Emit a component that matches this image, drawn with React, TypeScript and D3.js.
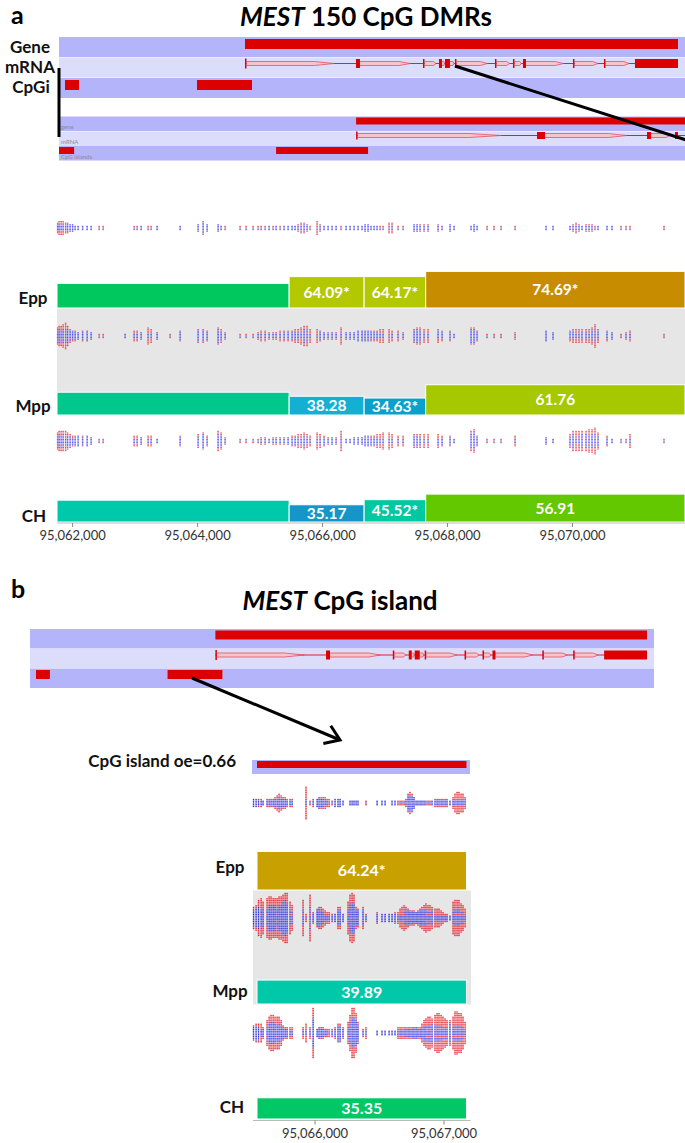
import React from "react";
import * as d3 from "d3";

const FONT = "Lato, 'Open Sans', sans-serif";

// ---------- browser overview (panel a top rows, panel b rows) ----------
const overviewDomain = [95055000, 95085000];
const geneOverview = [95063913, 95084663];
const exonsOverview = [
  [95063913, 95063985], [95069232, 95069424], [95072443, 95072515], [95073210, 95073353],
  [95073497, 95073737], [95073976, 95074048], [95075893, 95075965], [95076756, 95076828],
  [95077235, 95077379], [95079631, 95079703], [95081116, 95081188], [95082602, 95084663],
];
const cpgiOverview = [[95055288, 95055958], [95061613, 95064249]];

// ---------- zoomed browser view in panel a (DMR coordinates) ----------
const geneZoom = [95066536, 95071800];
const exonsZoom = [[95066536, 95066560], [95069432, 95069560], [95071192, 95071256], [95071640, 95071688]];
const cpgiZoom = [[95061760, 95062024], [95065256, 95066728]];

// ---------- panel a DMRs ----------
const domainA = [95061750, 95071800];
const dmrBoundsA = [95061750, 95065465, 95066665, 95067650, 95071800];
const eppA = [50.2, 64.09, 64.17, 74.69];
const eppLabA = ["", "64.09*", "64.17*", "74.69*"];
const mppA = [46.5, 38.28, 34.63, 61.76];
const mppLabA = ["", "38.28", "34.63*", "61.76"];
const chA = [44.5, 35.17, 45.52, 56.91];
const chLabA = ["", "35.17", "45.52*", "56.91"];
const eppColA = ["#00c85f", "#b4c800", "#b4c800", "#c88c00"];
const mppColA = ["#00c88c", "#14b0d4", "#0aa0cc", "#a5c800"];
const chColA = ["#00c8aa", "#1496c8", "#00c8a0", "#64c800"];
const ticksA = [95062000, 95064000, 95066000, 95068000, 95070000];

// CpG sites (bp) and dot-column half heights per track, fraction methylated
const sitesA = [95061760, 95061784, 95061816, 95061848, 95061888, 95061920, 95061960, 95062000, 95062040, 95062088, 95062160, 95062232, 95062296, 95062424, 95062488, 95062840, 95062984, 95063032, 95063096, 95063208, 95063256, 95063352, 95063560, 95063720, 95064008, 95064088, 95064152, 95064328, 95064376, 95064440, 95064680, 95064776, 95064888, 95064968, 95065016, 95065080, 95065144, 95065208, 95065256, 95065320, 95065384, 95065448, 95065512, 95065560, 95065608, 95065656, 95065704, 95065752, 95065800, 95065912, 95065960, 95066024, 95066088, 95066152, 95066216, 95066296, 95066376, 95066440, 95066504, 95066568, 95066632, 95066680, 95066728, 95066776, 95066824, 95066872, 95066920, 95066968, 95067064, 95067112, 95067208, 95067288, 95067464, 95067512, 95067560, 95067624, 95067688, 95067848, 95067912, 95068040, 95068104, 95068376, 95068424, 95068472, 95068632, 95068744, 95068856, 95069080, 95069576, 95069688, 95069960, 95070008, 95070056, 95070104, 95070152, 95070216, 95070264, 95070312, 95070360, 95070408, 95070552, 95070632, 95070776, 95070856, 95070920, 95071464];
const topA = [5, 6, 6, 6, 5, 4, 3, 3, 2, 2, 2, 2, 1, 1, 1, 0, 2, 2, 1, 2, 1, 1, 0, 2, 3, 7, 3, 3, 2, 1, 1, 1, 1, 1, 2, 1, 1, 1, 1, 1, 1, 1, 2, 2, 3, 4, 4, 3, 2, 6, 3, 2, 2, 1, 1, 2, 1, 1, 1, 1, 1, 3, 3, 2, 2, 2, 2, 2, 4, 4, 2, 2, 3, 3, 3, 3, 3, 3, 2, 3, 1, 2, 3, 1, 1, 1, 1, 2, 1, 1, 2, 3, 4, 3, 2, 3, 3, 3, 2, 2, 2, 2, 1, 2, 2, 1];
const eppDotsA = [8, 9, 10, 11, 13, 9, 6, 5, 4, 3, 4, 4, 3, 2, 2, 1, 5, 5, 3, 8, 6, 3, 1, 4, 6, 7, 5, 8, 6, 3, 1, 1, 1, 3, 5, 4, 3, 3, 3, 4, 4, 4, 5, 6, 7, 8, 10, 9, 6, 7, 5, 3, 3, 3, 3, 8, 3, 3, 3, 4, 4, 5, 5, 5, 5, 5, 6, 6, 6, 5, 4, 3, 6, 8, 8, 6, 6, 6, 4, 4, 2, 8, 8, 4, 1, 1, 1, 3, 4, 3, 5, 7, 7, 7, 6, 6, 7, 8, 11, 6, 5, 3, 2, 3, 4, 1];
const mppDotsA = [8, 9, 10, 9, 10, 8, 6, 5, 4, 4, 4, 4, 3, 2, 2, 0, 4, 4, 3, 4, 4, 2, 0, 4, 6, 8, 5, 9, 8, 3, 1, 1, 1, 2, 3, 3, 2, 3, 3, 3, 3, 3, 4, 5, 6, 7, 8, 7, 5, 8, 6, 4, 3, 3, 3, 9, 2, 2, 3, 3, 3, 4, 5, 5, 5, 6, 7, 8, 8, 7, 5, 4, 6, 6, 6, 7, 7, 6, 4, 4, 2, 10, 11, 5, 1, 1, 1, 4, 3, 2, 6, 9, 10, 10, 9, 10, 11, 11, 12, 8, 4, 2, 2, 2, 6, 1];
const methA = [0.5, 0.4, 0.5, 0.4, 0.6, 0.4, 0.3, 0.3, 0.4, 0.2, 0.3, 0.2, 0.3, 0.5, 0.5, 0.3, 0.6, 0.5, 0.3, 0.7, 0.6, 0.3, 0.5, 0.4, 0.3, 0.3, 0.3, 0.3, 0.4, 0.5, 0.5, 0.5, 0.5, 0.5, 0.6, 0.5, 0.4, 0.5, 0.4, 0.5, 0.4, 0.3, 0.3, 0.4, 0.4, 0.5, 0.4, 0.5, 0.5, 0.8, 0.4, 0.3, 0.4, 0.3, 0.4, 0.5, 0.3, 0.3, 0.3, 0.2, 0.2, 0.2, 0.2, 0.3, 0.3, 0.4, 0.5, 0.5, 0.8, 0.7, 0.5, 0.5, 0.3, 0.3, 0.4, 0.5, 0.5, 0.4, 0.4, 0.3, 0.3, 0.3, 0.3, 0.3, 0.5, 0.5, 0.5, 0.7, 0.2, 0.3, 0.4, 0.4, 0.6, 0.5, 0.4, 0.4, 0.5, 0.4, 0.5, 0.4, 0.3, 0.3, 0.5, 0.6, 0.7, 0.5];

// ---------- panel b (CpG island) ----------
const domainB = [95065519, 95067206];
const islandB = [95065550, 95067174];
const eppB = 64.24, mppB = 39.89, chB = 35.35;
const ticksB = [95066000, 95067000];
const sitesB = [95065523, 95065543, 95065562, 95065582, 95065597, 95065628, 95065644, 95065659, 95065675, 95065690, 95065706, 95065721, 95065737, 95065752, 95065768, 95065783, 95065806, 95065822, 95065907, 95065930, 95065961, 95065985, 95066016, 95066031, 95066047, 95066062, 95066078, 95066093, 95066109, 95066132, 95066155, 95066178, 95066194, 95066217, 95066256, 95066271, 95066287, 95066302, 95066318, 95066333, 95066372, 95066395, 95066481, 95066519, 95066543, 95066574, 95066597, 95066620, 95066643, 95066659, 95066674, 95066690, 95066705, 95066721, 95066736, 95066752, 95066767, 95066783, 95066798, 95066814, 95066829, 95066845, 95066860, 95066876, 95066891, 95066907, 95066930, 95066946, 95066961, 95066977, 95066992, 95067008, 95067023, 95067046, 95067070, 95067085, 95067101, 95067116, 95067132, 95067147, 95067163];
const topB = [3, 3, 3, 3, 1, 3, 4, 4, 4, 6, 7, 8, 7, 6, 5, 4, 4, 3, 0, 15, 2, 3, 3, 6, 6, 6, 5, 4, 3, 2, 3, 3, 3, 2, 0, 2, 2, 2, 2, 2, 0, 1, 1, 1, 1, 0, 1, 1, 2, 2, 2, 2, 4, 8, 10, 8, 5, 2, 2, 2, 2, 2, 2, 2, 2, 2, 4, 4, 4, 4, 3, 4, 3, 1, 6, 8, 10, 10, 9, 8, 6];
const eppDotsB = [10, 12, 17, 19, 16, 20, 21, 21, 19, 20, 20, 21, 21, 22, 25, 24, 15, 13, 17, 3, 23, 6, 8, 10, 10, 8, 7, 6, 5, 4, 3, 10, 10, 3, 15, 22, 25, 22, 10, 8, 10, 3, 5, 3, 3, 4, 4, 5, 6, 8, 10, 12, 10, 8, 7, 7, 7, 6, 7, 8, 10, 12, 14, 13, 12, 11, 9, 8, 8, 7, 6, 4, 3, 2, 16, 18, 18, 17, 14, 12, 8];
const mppDotsB = [7, 8, 8, 8, 5, 12, 15, 17, 17, 16, 16, 15, 12, 7, 6, 6, 6, 5, 6, 8, 6, 24, 4, 5, 5, 5, 4, 4, 4, 3, 6, 8, 8, 6, 10, 18, 24, 24, 20, 10, 3, 5, 1, 2, 2, 1, 1, 2, 6, 6, 6, 5, 5, 6, 6, 6, 6, 6, 5, 6, 8, 12, 14, 15, 15, 14, 18, 20, 20, 18, 16, 14, 12, 12, 15, 21, 21, 20, 19, 15, 10];
const methB = [0.3, 0.3, 0.4, 0.5, 0.4, 0.5, 0.4, 0.4, 0.4, 0.4, 0.5, 0.4, 0.4, 0.3, 0.3, 0.4, 0.5, 0.5, 0.5, 0.8, 0.5, 0.4, 0.3, 0.2, 0.3, 0.4, 0.6, 0.6, 0.7, 0.6, 0.3, 0.3, 0.3, 0.3, 0.5, 0.4, 0.4, 0.4, 0.4, 0.3, 0.4, 0.5, 0.3, 0.3, 0.3, 0.3, 0.3, 0.4, 0.5, 0.5, 0.6, 0.5, 0.4, 0.3, 0.3, 0.3, 0.2, 0.2, 0.3, 0.3, 0.4, 0.4, 0.5, 0.5, 0.5, 0.4, 0.5, 0.5, 0.5, 0.6, 0.6, 0.6, 0.5, 0.3, 0.6, 0.6, 0.6, 0.6, 0.6, 0.6, 0.6];

const DARK_ROW = "#b4b4fa";
const LIGHT_ROW = "#dcdcfb";
const FEAT = "#dc0000";

type Sc = d3.ScaleLinear<number, number>;

function Mrna({ x, y, start, end, exons, exonH, tickH }: { x: Sc; y: number; start: number; end: number; exons: number[][]; exonH: number; tickH: number }) {
  const parts: any[] = [];
  const x0 = x(start), x1 = x(end);
  parts.push(<line key="ln" x1={x0} x2={x1} y1={y} y2={y} stroke="#e0202a" strokeWidth={1} />);
  for (let i = 0; i < exons.length - 1; i++) {
    const a = x(exons[i][1]), b = x(exons[i + 1][0]);
    const L = b - a;
    const pts = [[a, y - 2], [a + 0.62 * L, y - 2], [a + 0.8 * L, y], [a + 0.62 * L, y + 2], [a, y + 2]];
    parts.push(<polyline key={"w" + i} points={pts.map(p => p.join(",")).join(" ")} fill="#f6c4cc" stroke="#e8505c" strokeWidth={0.8} />);
  }
  exons.forEach((e, i) => {
    const w = Math.max(1.4, x(e[1]) - x(e[0]));
    const h = i === 0 ? tickH : exonH;
    parts.push(<rect key={"e" + i} x={x(e[0])} y={y - h / 2} width={w} height={h} fill={FEAT} />);
  });
  return <g>{parts}</g>;
}

function DotTrack({ x, sites, hs, meth, cy, step, w, dh, op, red, blue }: { x: Sc; sites: number[]; hs: number[]; meth: number[]; cy: number; step: number; w: number; dh: number; op: number; red: string; blue: string }) {
  const rects: any[] = [];
  sites.forEach((s, i) => {
    const h = hs[i];
    if (h <= 0) return;
    const n = Math.max(0, Math.round(h / step));
    const cx = x(s);
    for (let k = -n; k <= n; k++) {
      const a = Math.abs(k) / (n + 1);
      const isRed = a >= 1 - meth[i] || (Math.abs(k) % 3 === 2 && meth[i] > 0.45);
      rects.push(<rect key={i + "_" + k} x={cx - w / 2} y={cy + k * step - dh / 2} width={w} height={dh} fill={isRed ? red : blue} />);
    }
  });
  return <g opacity={op}>{rects}</g>;
}

function Bars({ x, bounds, vals, labs, cols, base, k, fs }: { x: Sc; bounds: number[]; vals: number[]; labs: string[]; cols: string[]; base: number; k: number; fs: number }) {
  return (
    <g>
      {vals.map((v, i) => {
        const x0 = x(bounds[i]), x1 = x(bounds[i + 1]);
        const h = v * k;
        return (
          <g key={i}>
            <rect x={x0} y={base - h} width={x1 - x0} height={h} fill={cols[i]} stroke="#fff" strokeWidth={1} />
            {labs[i] && (
              <text x={(x0 + x1) / 2} y={base - h / 2 + fs * 0.36} textAnchor="middle" fill="#fff" fontSize={fs} fontWeight={700} fontFamily={FONT}>
                {labs[i]}
              </text>
            )}
          </g>
        );
      })}
    </g>
  );
}

function Axis({ x, ticks, y, x0, x1 }: { x: Sc; ticks: number[]; y: number; x0: number; x1: number }) {
  const fmt = d3.format(",");
  return (
    <g>
      <line x1={x0} x2={x1} y1={y} y2={y} stroke="#bbb" strokeWidth={1} />
      {ticks.map(t => (
        <g key={t}>
          <line x1={x(t)} x2={x(t)} y1={y} y2={y + 4} stroke="#888" strokeWidth={1} />
          <text x={x(t)} y={y + 17} textAnchor="middle" fontSize={13} fill="#333" fontFamily={FONT}>{fmt(t)}</text>
        </g>
      ))}
    </g>
  );
}

function BrowserRows({ x, x0, x1, tops, h, featOff, featH, mrnaOff, gene, exons, cpgi, exonH, tickH, small }: any) {
  return (
    <g>
      <rect x={x0} y={tops[0]} width={x1 - x0} height={h} fill={DARK_ROW} />
      <rect x={x0} y={tops[1]} width={x1 - x0} height={h} fill={LIGHT_ROW} />
      <rect x={x0} y={tops[2]} width={x1 - x0} height={h} fill={DARK_ROW} />
      <rect x={x(gene[0])} y={tops[0] + featOff} width={Math.min(x1, x(gene[1])) - x(gene[0])} height={featH} fill={FEAT} />
      <Mrna x={x} y={tops[1] + mrnaOff} start={gene[0]} end={gene[1]} exons={exons} exonH={exonH} tickH={tickH} />
      {cpgi.map((c: number[], i: number) => (
        <rect key={i} x={Math.max(x0, x(c[0]))} y={tops[2] + featOff} width={x(c[1]) - Math.max(x0, x(c[0]))} height={featH} fill={FEAT} />
      ))}
      {small && (
        <g fontSize={6} fill="#8a8a9a" fontFamily={FONT}>
          <text x={x0 + 2} y={tops[0] + h - 2}>gene</text>
          <text x={x0 + 2} y={tops[1] + h - 2}>mRNA</text>
          <text x={x0 + 2} y={tops[2] + h - 2}>CpG islands</text>
        </g>
      )}
    </g>
  );
}

export default function App() {
  const W = 685, H = 1143;
  const xOvA = d3.scaleLinear().domain(overviewDomain).range([59, 685]);
  const xOvB = d3.scaleLinear().domain(overviewDomain).range([30, 654]);
  const xA = d3.scaleLinear().domain(domainA).range([57, 685]);
  const xB = d3.scaleLinear().domain(domainB).range([253, 470.6]);
  const kA = 0.49;
  const kB = 0.6;
  const lab = (t: string, x: number, y: number, anchor = "middle") => (
    <text x={x} y={y} textAnchor={anchor as any} fontSize={17} fontWeight={700} fontFamily={FONT} fill="#111">{t}</text>
  );
  const redA = "#e42a34", blueA = "#3434ea";
  const redB = "#e8141e", blueB = "#2020dc";

  const ax0 = 192, ay0 = 678, ax1 = 340, ay1 = 740;
  const ang = Math.atan2(ay1 - ay0, ax1 - ax0);
  const hl = 17, ha = 0.6;
  const b1 = [ax1 - hl * Math.cos(ang - ha), ay1 - hl * Math.sin(ang - ha)];
  const b2 = [ax1 - hl * Math.cos(ang + ha), ay1 - hl * Math.sin(ang + ha)];

  return (
    <svg width={W} height={H} style={{ position: "absolute", left: 0, top: 0, background: "#fff" }} xmlns="http://www.w3.org/2000/svg">
      {/* ================= PANEL A ================= */}
      <text x={11} y={24} fontSize={25} fontWeight={700} fontFamily={FONT}>a</text>
      <text x={366} y={26} textAnchor="middle" fontSize={26} fontWeight={700} fontFamily={FONT}>
        <tspan fontStyle="italic">MEST</tspan> 150 CpG DMRs
      </text>
      {lab("Gene", 30, 53)}
      {lab("mRNA", 30, 73)}
      {lab("CpGi", 31, 93)}

      <BrowserRows x={xOvA} x0={59} x1={685} tops={[37, 57.5, 78]} h={20} featOff={2} featH={10} mrnaOff={6} gene={geneOverview} exons={exonsOverview} cpgi={cpgiOverview} exonH={9} tickH={10} small={false} />
      <BrowserRows x={xA} x0={59} x1={685} tops={[116.5, 131.5, 146]} h={14.5} featOff={1} featH={7} mrnaOff={4} gene={geneZoom} exons={exonsZoom} cpgi={cpgiZoom} exonH={7} tickH={8} small={true} />
      <line x1={59} x2={59} y1={68} y2={137} stroke="#000" strokeWidth={3} />
      <line x1={455} y1={66} x2={686} y2={140} stroke="#000" strokeWidth={3} />

      <DotTrack x={xA} sites={sitesA} hs={topA} meth={methA} cy={228} step={1.6} w={1.5} dh={1.2} op={0.8} red={redA} blue={blueA} />

      <Bars x={xA} bounds={dmrBoundsA} vals={eppA} labs={eppLabA} cols={eppColA} base={308} k={kA} fs={15.5} />
      {lab("Epp", 33, 304)}

      <rect x={57} y={308.5} width={628} height={107} fill="#e6e6e6" />
      <DotTrack x={xA} sites={sitesA} hs={eppDotsA} meth={methA} cy={336} step={1.6} w={1.5} dh={1.2} op={0.8} red={redA} blue={blueA} />

      <Bars x={xA} bounds={dmrBoundsA} vals={mppA} labs={mppLabA} cols={mppColA} base={415} k={kA} fs={15.5} />
      {lab("Mpp", 33, 412)}

      <DotTrack x={xA} sites={sitesA} hs={mppDotsA} meth={methA} cy={441} step={1.6} w={1.5} dh={1.2} op={0.8} red={redA} blue={blueA} />

      <Bars x={xA} bounds={dmrBoundsA} vals={chA} labs={chLabA} cols={chColA} base={522} k={kA} fs={15.5} />
      {lab("CH", 34, 522)}
      <Axis x={xA} ticks={ticksA} y={523} x0={57} x1={685} />

      {/* ================= PANEL B ================= */}
      <text x={11} y={598} fontSize={25} fontWeight={700} fontFamily={FONT}>b</text>
      <text x={340} y={610} textAnchor="middle" fontSize={26} fontWeight={700} fontFamily={FONT}>
        <tspan fontStyle="italic">MEST</tspan> CpG island
      </text>
      <BrowserRows x={xOvB} x0={30} x1={654} tops={[629, 648.5, 668.5]} h={19.5} featOff={1.5} featH={9} mrnaOff={6.5} gene={geneOverview} exons={exonsOverview} cpgi={cpgiOverview} exonH={9} tickH={10} small={false} />
      <line x1={ax0} y1={ay0} x2={ax1} y2={ay1} stroke="#000" strokeWidth={3} />
      <polyline points={`${b1[0]},${b1[1]} ${ax1},${ay1} ${b2[0]},${b2[1]}`} fill="none" stroke="#000" strokeWidth={3} strokeLinejoin="miter" />

      {lab("CpG island oe=0.66", 236, 767, "end")}
      <rect x={252} y={760} width={218} height={14} fill={DARK_ROW} />
      <rect x={xB(islandB[0])} y={761} width={xB(islandB[1]) - xB(islandB[0])} height={7} fill={FEAT} />

      <DotTrack x={xB} sites={sitesB} hs={topB} meth={methB} cy={803} step={1.75} w={1.4} dh={1.3} op={0.95} red={redB} blue={blueB} />

      <Bars x={xB} bounds={islandB} vals={[eppB]} labs={["64.24*"]} cols={["#c8a000"]} base={890} k={kB} fs={16} />
      {lab("Epp", 230, 873)}

      <rect x={253} y={890.5} width={218} height={114} fill="#e6e6e6" />
      <DotTrack x={xB} sites={sitesB} hs={eppDotsB} meth={methB} cy={918} step={1.75} w={1.4} dh={1.3} op={0.95} red={redB} blue={blueB} />

      <Bars x={xB} bounds={islandB} vals={[mppB]} labs={["39.89"]} cols={["#00c8a8"]} base={1004} k={kB} fs={16} />
      {lab("Mpp", 230, 997)}

      <DotTrack x={xB} sites={sitesB} hs={mppDotsB} meth={methB} cy={1033} step={1.75} w={1.4} dh={1.3} op={0.95} red={redB} blue={blueB} />

      <Bars x={xB} bounds={islandB} vals={[chB]} labs={["35.35"]} cols={["#00c864"]} base={1119} k={kB} fs={16} />
      {lab("CH", 232, 1113)}
      <Axis x={xB} ticks={ticksB} y={1120.5} x0={253} x1={470.6} />
    </svg>
  );
}
